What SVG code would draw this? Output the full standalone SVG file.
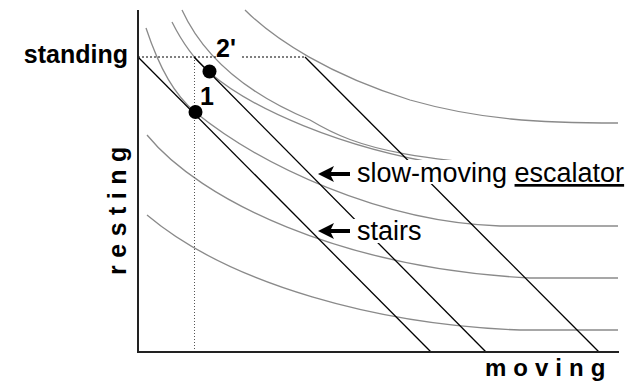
<svg xmlns="http://www.w3.org/2000/svg" width="637" height="384" viewBox="0 0 637 384">
<style>
.curve{fill:none;stroke:#8a8a8a;stroke-width:1.3}
.budget{fill:none;stroke:#000;stroke-width:1.3}
.axis{fill:none;stroke:#222;stroke-width:2}
.lbl{font-family:"Liberation Sans",Arial,sans-serif;fill:#000}
.bold{font-weight:bold}
.bg{fill:#fff;stroke:none}
.arrow{fill:#000}
</style>
<rect width="637" height="384" fill="#fff"/>
<g id="curves">
<path class="curve" d="M245,10 C275,40 330,75 410,100 C480,120 540,123 618,123"/>
<path class="curve" d="M182,10 C205,60 250,95 310,120 C360,150 410,163 618,172"/>
<path class="curve" d="M172,22 C182,42 195,60 209,72 C250,108 340,148 447,165 C520,176 570,179 618,180"/>
<path class="curve" d="M146,28 C160,70 175,95 195,112 C260,165 380,222 500,226 L618,226"/>
<path class="curve" d="M147,135 C200,200 340,268 530,278 L618,278"/>
<path class="curve" d="M147,215 C230,285 380,325 520,330 L618,330"/>
</g>
<g id="connectors">
<line x1="138" y1="57" x2="305" y2="57" stroke="#000" stroke-width="1" stroke-dasharray="2 2"/>
<line x1="194.5" y1="57" x2="194.5" y2="352" stroke="#555" stroke-width="1" stroke-dasharray="1 2"/>
<line class="budget" x1="138" y1="57" x2="431" y2="352"/>
<line class="budget" x1="194" y1="57" x2="486" y2="352"/>
<line class="budget" x1="305" y1="57" x2="599" y2="352"/>
</g>
<g id="axes">
<line class="axis" x1="138" y1="10" x2="138" y2="352"/>
<line class="axis" x1="137" y1="352" x2="619" y2="352"/>
</g>
<g id="point-1">
<circle cx="195.5" cy="112" r="7" fill="#000"/>
<text class="lbl bold" x="200" y="105" font-size="25">1</text>
</g>
<g id="point-2prime">
<circle cx="209.5" cy="71.5" r="7" fill="#000"/>
<rect class="bg" x="216" y="37" width="24" height="21"/>
<text class="lbl bold" x="216" y="57" font-size="25">2'</text>
</g>
<g id="label-escalator">
<rect class="bg" x="353" y="160" width="275" height="24"/>
<path class="arrow" d="M318,174 L334,166 L331,172 L350,172 L350,176 L331,176 L334,182 Z"/>
<text class="lbl" x="357" y="182" font-size="27">slow-moving <tspan text-decoration="underline">escalator</tspan></text>
</g>
<g id="label-stairs">
<rect class="bg" x="353" y="219" width="73" height="24"/>
<path class="arrow" d="M318,231 L334,223 L331,229 L350,229 L350,233 L331,233 L334,239 Z"/>
<text class="lbl" x="357" y="240" font-size="27">stairs</text>
</g>
<g id="axis-labels">
<text class="lbl bold" x="128" y="63" font-size="25" text-anchor="end">standing</text>
<text class="lbl bold" transform="translate(126,275) rotate(-90)" x="0" y="0" font-size="25" letter-spacing="7.5">resting</text>
<text class="lbl bold" x="485" y="376" font-size="24" letter-spacing="7">moving</text>
</g>
</svg>
